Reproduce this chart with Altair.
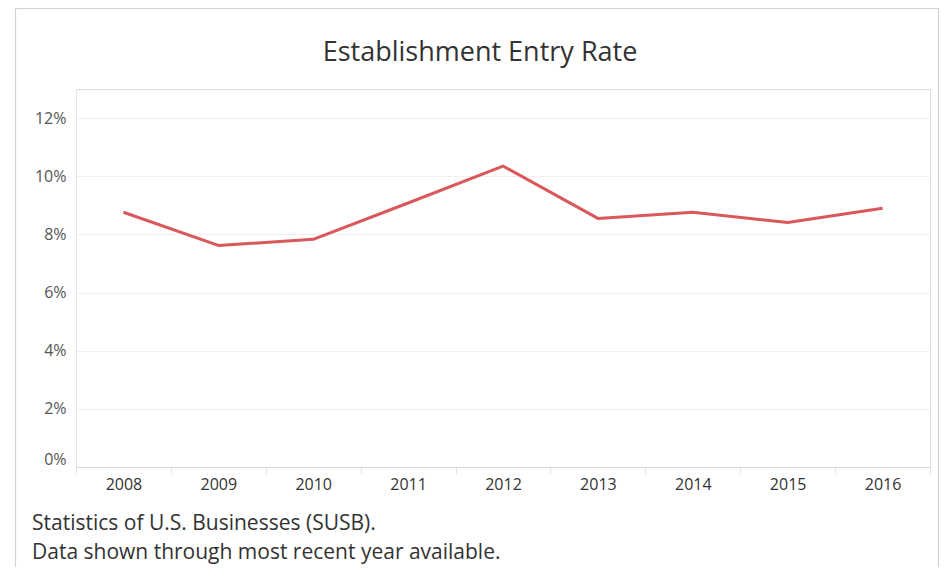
import altair as alt
import pandas as pd

# ---- data ----
years = ["2008", "2009", "2010", "2011", "2012", "2013", "2014", "2015", "2016"]
entry_rate = [0.0876, 0.0762, 0.0783, 0.0908, 0.1035, 0.0855, 0.0876, 0.0841, 0.0890]
y_ticks = [0.0, 0.02, 0.04, 0.06, 0.08, 0.10, 0.12]
title_text = ["Establishment Entry Rate"]
notes = ["Statistics of U.S. Businesses (SUSB).",
         "Data shown through most recent year available."]

df = pd.DataFrame({"year": years, "rate": entry_rate})

FONT = "Open Sans"
W, H = 854, 378

line = alt.Chart(df).mark_line(color="#d9585b", strokeWidth=3, strokeJoin="round").encode(
    x=alt.X("year:O", bandPosition=0.5,
            scale=alt.Scale(type="band", paddingInner=0, paddingOuter=0),
            axis=alt.Axis(title=None, labelAngle=0, grid=False, tickBand="extent",
                          domainColor="#d6d6d6", tickColor="#e2e2e2", tickSize=7,
                          labelFont=FONT, labelFontSize=16, labelColor="#333333",
                          labelPadding=2)),
    y=alt.Y("rate:Q", scale=alt.Scale(domain=[0, 0.13], nice=False),
            axis=alt.Axis(title=None, values=y_ticks, format=".0%", ticks=False,
                          grid=True, gridColor="#efefef", gridWidth=1,
                          domainColor="#e6e6e6", labelFlush=True,
                          labelFont=FONT, labelFontSize=16, labelColor="#555555",
                          labelPadding=10)),
)

frame = alt.Chart(pd.DataFrame({"f": [0]})).mark_rect(
    fill="transparent", stroke="#d2d2d2", strokeWidth=1.2, clip=False
).encode(
    x=alt.value(-60.5), x2=alt.value(862.5), y=alt.value(-80.5), y2=alt.value(520)
)

title = alt.Chart(pd.DataFrame({"t": title_text})).mark_text(
    font=FONT, fontSize=27, color="#333333",
    align="center", baseline="alphabetic"
).encode(text="t:N", x=alt.value(404), y=alt.value(-28))

footnote = alt.Chart(pd.DataFrame({"t": ["\n".join(notes)]})).mark_text(
    font=FONT, fontSize=21, color="#333333",
    align="left", baseline="alphabetic", lineBreak="\n", lineHeight=29.3
).encode(text="t:N", x=alt.value(-44), y=alt.value(441))

chart = alt.layer(frame, line, title, footnote).properties(
    width=W, height=H,
    autosize=alt.AutoSizeParams(type="none"),
    padding={"left": 68, "top": 81, "right": 10, "bottom": 100},
).configure_view(stroke=None).configure(background="white")

chart.save("out.html", embed_options={"renderer": "svg", "actions": False})
